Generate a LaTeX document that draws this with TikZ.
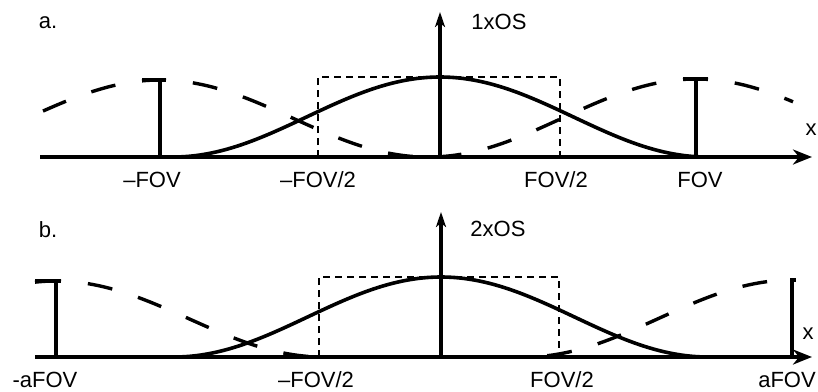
\documentclass[tikz,border=0pt]{standalone}
\usepackage{fontspec}
\setmainfont{Liberation Sans}
\usetikzlibrary{arrows.meta}
% one raised-cosine lobe: centre x, axis y, height, domain (from the peak outwards), style
\newcommand{\lobe}[5]{\draw[#5] plot[domain=#4,samples=60,smooth] ({#1+\x},{#2-#3*(1+cos(\x/267*180))/2});}

\begin{document}
\begin{tikzpicture}[x=1pt,y=-1pt,
  lbl/.style={font=\fontsize{22}{26}\selectfont,inner sep=0pt,anchor=base},
  ghost/.style={line width=3.4pt,dash pattern=on 25pt off 27pt},
  bell/.style={line width=3.6pt},
  fovbox/.style={line width=1.5pt,dash pattern=on 7pt off 5pt},
  haxis/.style={line width=4pt,-{Stealth[length=19pt,width=15pt,inset=6pt]}},
  vaxis/.style={line width=3.5pt,-{Stealth[length=15pt,width=10pt,inset=4pt]}}]
\useasboundingbox (0,0) rectangle (818,391);
% a. 1xOS
\draw[fovbox] (318,157)--(318,77)--(560,77)--(560,157);
\lobe{160}{157}{77}{0:-120}{ghost,dash phase=7pt}
\lobe{160}{157}{77}{0:270}{ghost,dash phase=19pt}
\lobe{696}{157}{78}{0:-268}{ghost,dash phase=12pt}
\lobe{696}{157}{78}{0:97}{ghost,dash phase=13pt}
\lobe{440}{157}{80}{-268:268}{bell}
\draw[bell] (160,157)--(160,80) (142,80)--(166,80);
\draw[bell] (696,157)--(696,79) (683,79)--(708,79);
\draw[haxis] (40,157)--(812,157);
\draw[vaxis] (440,157)--(440,12);
\node[lbl] (pa) at (48,28) {a.};
\node[lbl] (osa) at (499,29) {1xOS};
\node[lbl] (xa) at (811,135) {x};
\node[lbl] (mfov) at (152,187) {–FOV};
\node[lbl] (mhalfa) at (318,187) {–FOV/2};
\node[lbl] (halfa) at (556,187) {FOV/2};
\node[lbl] (fov) at (700,187) {FOV};
% b. 2xOS
\draw[fovbox] (319,357)--(319,277)--(559,277)--(559,357);
\lobe{56}{357}{76}{0:-21}{ghost,dash phase=4pt}
\lobe{56}{357}{76}{0:268}{ghost,dash phase=20pt}
\lobe{792}{357}{77}{0:-268}{ghost,dash phase=27pt}
\lobe{441}{357}{80}{-268:268}{bell}
\draw[bell] (56,357)--(56,281) (35,281)--(61,281);
\draw[bell] (792,357)--(792,280)--(796,280);
\draw[haxis] (35,357)--(812,357);
\draw[vaxis] (441,357)--(441,212);
\node[lbl] (pb) at (48,237) {b.};
\node[lbl] (osb) at (498,236) {2xOS};
\node[lbl] (xb) at (808,339) {x};
\node[lbl] (mafov) at (45,387) {-aFOV};
\node[lbl] (mhalfb) at (316,387) {–FOV/2};
\node[lbl] (halfb) at (562,387) {FOV/2};
\node[lbl] (afov) at (787,387) {aFOV};
\end{tikzpicture}
\end{document}
